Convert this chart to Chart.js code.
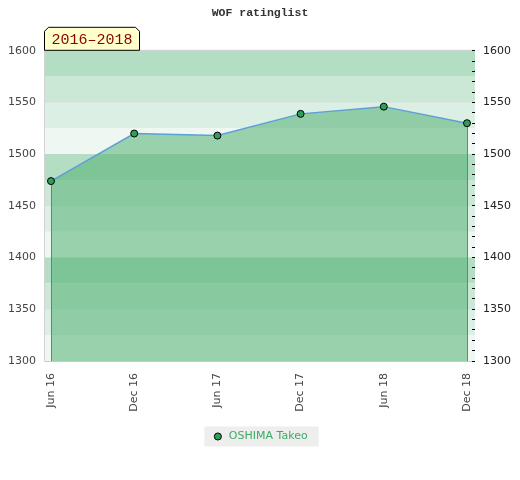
<!DOCTYPE html>
<html>
<head>
<meta charset="utf-8">
<script src="https://cdn.jsdelivr.net/npm/chart.js@4.4.0/dist/chart.umd.min.js"></script>
<style>
  body { margin: 0; background: #fff; }
</style>
</head>
<body>
<canvas id="ratingChart" width="520" height="480"></canvas>
<script>
const periods = ['Jun 16', 'Dec 16', 'Jun 17', 'Dec 17', 'Jun 18', 'Dec 18'];
const ratings = [1474, 1520, 1518, 1539, 1546, 1530];
const playerName = 'OSHIMA Takeo';
const rangeLabel = '2016–2018';
const chartTitle = 'WOF ratinglist';

const Y_MIN = 1300, Y_MAX = 1600;
// band shades, repeating every 100 points from the top
const bandColors = ['#b3dec4', '#cbe7d6', '#dcefe4', '#eef7f2'];

const bgPlugin = {
    id: 'bands',
    beforeDraw(chart) {
        const ctx = chart.ctx;
        const area = chart.chartArea;
        const y = chart.scales.y;
        ctx.save();
        for (let v = Y_MAX; v > Y_MIN; v -= 25) {
            const i = ((Y_MAX - v) / 25) % 4;
            const top = y.getPixelForValue(v);
            const bottom = y.getPixelForValue(v - 25);
            ctx.fillStyle = bandColors[i];
            ctx.fillRect(area.left, top, area.right + 3 - area.left, bottom - top);
        }
        // plot frame
        ctx.strokeStyle = '#d2d2d2';
        ctx.lineWidth = 1;
        ctx.beginPath();
        ctx.moveTo(area.right + 3, area.top - 0.5);
        ctx.lineTo(area.left - 0.5, area.top - 0.5);
        ctx.lineTo(area.left - 0.5, area.bottom + 0.5);
        ctx.lineTo(area.right + 3, area.bottom + 0.5);
        ctx.stroke();

        // legend backdrop
        const hb = chart.legend.legendHitBoxes[0];
        if (hb) {
            ctx.fillStyle = '#eeeeee';
            ctx.fillRect(hb.left - 8, hb.top - 4.5, hb.width + 19, 20);
        }
        ctx.restore();
    },
    beforeDatasetDraw(chart, args) {
        if (args.index !== 0) return;
        // vertical edges of the filled area
        const ctx = chart.ctx;
        const x = chart.scales.x, y = chart.scales.y;
        ctx.save();
        ctx.strokeStyle = '#3d9e60';
        ctx.lineWidth = 1;
        [0, ratings.length - 1].forEach(i => {
            const px = Math.round(x.getPixelForValue(i)) + 0.5;
            ctx.beginPath();
            ctx.moveTo(px, y.getPixelForValue(ratings[i]));
            ctx.lineTo(px, chart.chartArea.bottom);
            ctx.stroke();
        });
        ctx.restore();
    },
    afterDraw(chart) {
        // period badge above the plot
        const ctx = chart.ctx;
        const l = chart.chartArea.left - 0.5, b = chart.chartArea.top - 0.5;
        const w = 95, h = 23, c = 4;
        ctx.save();
        ctx.beginPath();
        ctx.moveTo(l, b);
        ctx.lineTo(l, b - h + c);
        ctx.lineTo(l + c, b - h);
        ctx.lineTo(l + w - c, b - h);
        ctx.lineTo(l + w, b - h + c);
        ctx.lineTo(l + w, b);
        ctx.closePath();
        ctx.fillStyle = '#ffffcc';
        ctx.fill();
        ctx.strokeStyle = '#000';
        ctx.lineWidth = 1;
        ctx.stroke();
        ctx.fillStyle = '#8b0000';
        ctx.font = '15px "Liberation Mono", "DejaVu Sans Mono", monospace';
        ctx.textBaseline = 'middle';
        ctx.fillText(rangeLabel, l + 7, b - 10.5);
        ctx.restore();
    }
};

const tickFont = { family: '"DejaVu Sans", sans-serif', size: 11 };

new Chart(document.getElementById('ratingChart'), {
    type: 'line',
    data: {
        datasets: [{
            label: playerName,
            data: ratings.map((v, i) => ({ x: i, y: v })),
            borderColor: '#5e9fd8',
            borderWidth: 1.5,
            backgroundColor: 'rgba(74,174,109,0.52)',
            fill: 'start',
            tension: 0,
            pointRadius: 3.5,
            pointBackgroundColor: '#2f9e58',
            pointBorderColor: '#000',
            pointBorderWidth: 1,
            yAxisID: 'y'
        }]
    },
    options: {
        responsive: false,
        animation: false,
        layout: { padding: { bottom: 28 } },
        plugins: {
            title: {
                display: true,
                text: chartTitle,
                color: '#333',
                font: { family: '"Liberation Mono", "DejaVu Sans Mono", monospace', size: 11.5, weight: 'bold' },
                padding: { top: 6, bottom: 31 }
            },
            legend: {
                position: 'bottom',
                labels: {
                    usePointStyle: true,
                    pointStyle: 'circle',
                    boxWidth: 11,
                    boxHeight: 5,
                    color: '#3daa65',
                    font: tickFont,
                    padding: 10
                }
            },
            tooltip: { enabled: false }
        },
        scales: {
            x: {
                type: 'linear',
                min: -0.072,
                max: 5.06,
                afterBuildTicks: scale => { scale.ticks = periods.map((_, i) => ({ value: i })); },
                afterFit: scale => { scale.height = 60; },
                grid: { display: false, drawTicks: false },
                border: { display: false },
                ticks: {
                    autoSkip: false,
                    minRotation: 90,
                    maxRotation: 90,
                    padding: 12,
                    color: '#444',
                    font: tickFont,
                    callback: v => periods[v]
                }
            },
            y: {
                position: 'left',
                min: Y_MIN,
                max: Y_MAX,
                afterFit: scale => { scale.width = 45; },
                grid: { color: 'rgba(0,0,0,0.035)', drawTicks: false },
                border: { display: false },
                ticks: { stepSize: 50, padding: 9, color: '#444', font: tickFont, callback: v => String(v) }
            },
            y2: {
                position: 'right',
                min: Y_MIN,
                max: Y_MAX,
                afterFit: scale => { scale.width = 48; },
                grid: { drawOnChartArea: false, tickLength: 3, tickColor: '#000' },
                border: { display: false },
                ticks: {
                    stepSize: 10,
                    autoSkip: false,
                    padding: 8,
                    color: '#222',
                    font: tickFont,
                    callback: v => (v % 50 === 0 ? String(v) : '')
                }
            }
        }
    },
    plugins: [bgPlugin]
});
</script>
</body>
</html>
